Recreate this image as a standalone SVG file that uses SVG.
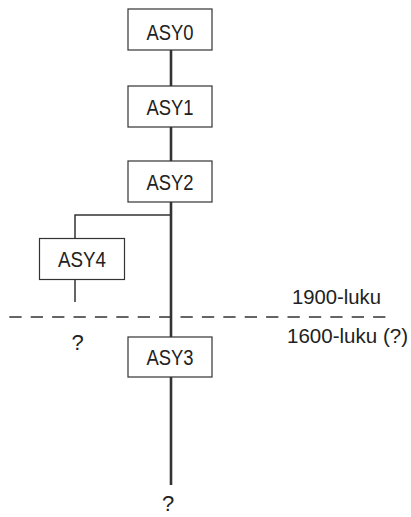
<svg xmlns="http://www.w3.org/2000/svg" width="411" height="517" viewBox="0 0 411 517">
<style>
.box{fill:#fff;stroke:#333;stroke-width:1.2}
.lbl{font-family:"Liberation Sans",Arial,sans-serif;font-size:22px;fill:#222;text-anchor:middle}
.txt{font-family:"Liberation Sans",Arial,sans-serif;font-size:21px;fill:#222}
.main{stroke:#333;stroke-width:2.6;fill:none}
.thin{stroke:#333;stroke-width:1.5;fill:none}
.dash{stroke:#333;stroke-width:1.6;stroke-dasharray:12.3 9.1;fill:none}
</style>
<rect width="411" height="517" fill="#fff"/>
<g id="connectors">
<line class="main" x1="171" y1="50" x2="171" y2="86"/>
<line class="main" x1="171" y1="127" x2="171" y2="161"/>
<line class="main" x1="171" y1="202" x2="171" y2="337"/>
<line class="main" x1="171" y1="377" x2="171" y2="485"/>
<polyline class="thin" points="171,215 75,215 75,238.5"/>
<line class="thin" x1="75" y1="279.5" x2="75" y2="302"/>
</g>
<line id="divider" class="dash" x1="9.3" y1="317" x2="386" y2="317"/>
<g id="ASY0"><rect class="box" x="128" y="9" width="84" height="41"/><text class="lbl" x="170" y="39.5" textLength="47" lengthAdjust="spacingAndGlyphs">ASY0</text></g>
<g id="ASY1"><rect class="box" x="128" y="86" width="84" height="41"/><text class="lbl" x="170" y="114.5" textLength="47" lengthAdjust="spacingAndGlyphs">ASY1</text></g>
<g id="ASY2"><rect class="box" x="128" y="161" width="84" height="41"/><text class="lbl" x="170" y="189.5" textLength="47" lengthAdjust="spacingAndGlyphs">ASY2</text></g>
<g id="ASY4"><rect class="box" x="39.5" y="238.5" width="85" height="41"/><text class="lbl" x="82" y="266.5" textLength="48" lengthAdjust="spacingAndGlyphs">ASY4</text></g>
<g id="ASY3"><rect class="box" x="128" y="337" width="84" height="40"/><text class="lbl" x="170" y="364.5" textLength="47" lengthAdjust="spacingAndGlyphs">ASY3</text></g>
<text class="txt" x="292" y="304" textLength="89" lengthAdjust="spacingAndGlyphs">1900-luku</text>
<text class="txt" x="287" y="343" textLength="121" lengthAdjust="spacingAndGlyphs">1600-luku (?)</text>
<text class="lbl" x="77.5" y="350">?</text>
<text class="lbl" x="168" y="511">?</text>
</svg>
